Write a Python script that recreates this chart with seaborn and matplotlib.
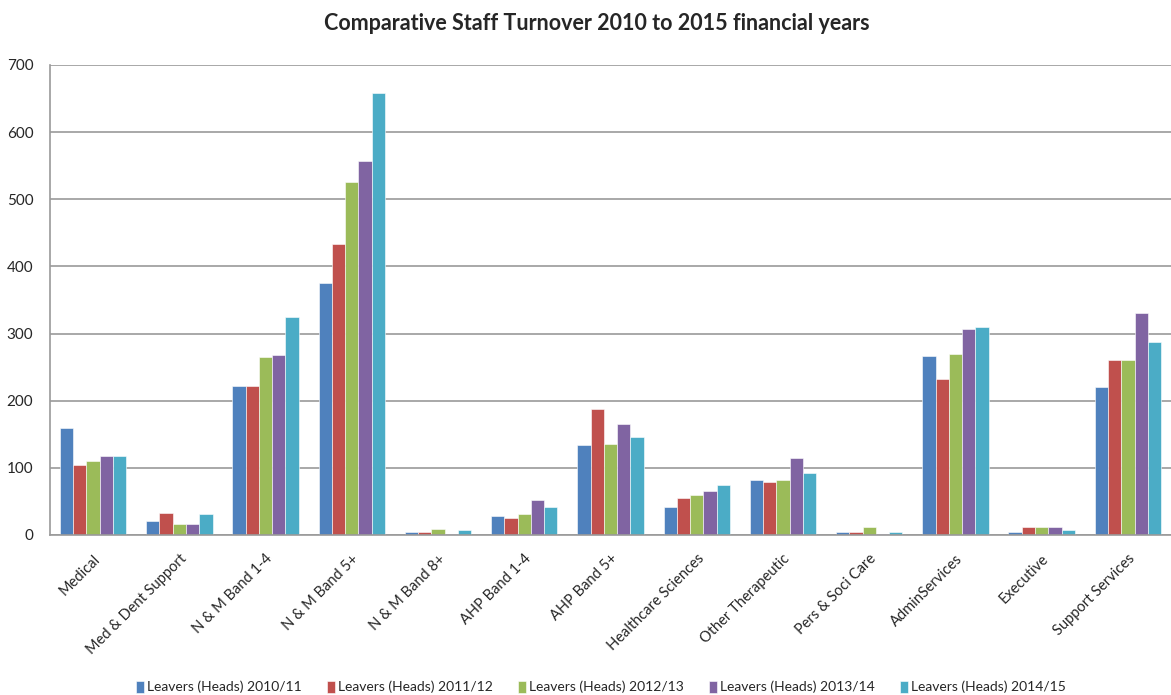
import matplotlib
matplotlib.use("Agg")
import matplotlib.pyplot as plt
import seaborn as sns
import pandas as pd

categories = ["Medical", "Med & Dent Support", "N & M Band 1-4", "N & M Band 5+",
              "N & M Band 8+", "AHP Band 1-4", "AHP Band 5+", "Healthcare Sciences",
              "Other Therapeutic", "Pers & Soci Care", "AdminServices", "Executive",
              "Support Services"]
series = ["Leavers (Heads) 2010/11", "Leavers (Heads) 2011/12", "Leavers (Heads) 2012/13",
          "Leavers (Heads) 2013/14", "Leavers (Heads) 2014/15"]
v2010 = [160, 21, 222, 375, 4, 28, 134, 41, 82, 5, 266, 5, 220]
v2011 = [105, 33, 222, 433, 4, 26, 187, 55, 79, 5, 232, 12, 260]
v2012 = [110, 16, 265, 526, 9, 31, 136, 60, 82, 12, 270, 12, 260]
v2013 = [117, 16, 268, 557, 2, 52, 165, 65, 114, 2, 307, 12, 330]
v2014 = [117, 31, 325, 658, 7, 41, 146, 74, 93, 5, 310, 7, 287]
colors = ["#4F81BD", "#C0504D", "#9BBB59", "#8064A2", "#4BACC6"]

rows = []
for name, vals in zip(series, [v2010, v2011, v2012, v2013, v2014]):
    for cat, v in zip(categories, vals):
        rows.append({"Category": cat, "Series": name, "Leavers": v})
df = pd.DataFrame(rows)

sns.set_style("white")
plt.rcParams["font.family"] = ["Lato", "DejaVu Sans"]

fig = plt.figure(figsize=(11.71, 6.95), dpi=100)
ax = fig.add_axes([50 / 1171, 1 - 535 / 695, 1121 / 1171, 470 / 695])

sns.barplot(data=df, x="Category", y="Leavers", hue="Series", order=categories,
            hue_order=series, palette=colors, width=0.77, saturation=1,
            edgecolor="white", linewidth=0.4, ax=ax, legend=True)

ax.set_xlim(-0.5, len(categories) - 0.5)
ax.set_ylim(0, 700)
ax.set_yticks(range(0, 701, 100))
ax.yaxis.grid(True, color="#9a9a9a", linewidth=1.2)
ax.set_axisbelow(True)
ax.set_xlabel("")
ax.set_ylabel("")
for side in ["top", "right"]:
    ax.spines[side].set_visible(False)
for side in ["left", "bottom"]:
    ax.spines[side].set_color("#9a9a9a")
    ax.spines[side].set_linewidth(1.2)
ax.tick_params(axis="y", labelsize=11, length=0, pad=12)
ax.tick_params(axis="x", labelsize=10.5, length=0, pad=12)
plt.setp(ax.get_xticklabels(), rotation=45, ha="right", rotation_mode="anchor")

fig.text(0.51, 1 - 24 / 695, "Comparative Staff Turnover 2010 to 2015 financial years",
         ha="center", va="center", fontsize=15.5, fontweight="bold")

handles, labels = ax.get_legend_handles_labels()
ax.legend_.remove()
fig.legend(handles, labels, loc="center", bbox_to_anchor=(0.513, 1 - 687 / 695),
           ncol=5, frameon=False, fontsize=10, handlelength=0.6, handleheight=1.0,
           handletextpad=0.2, columnspacing=1.8)

fig.savefig("out.png", dpi=100)
